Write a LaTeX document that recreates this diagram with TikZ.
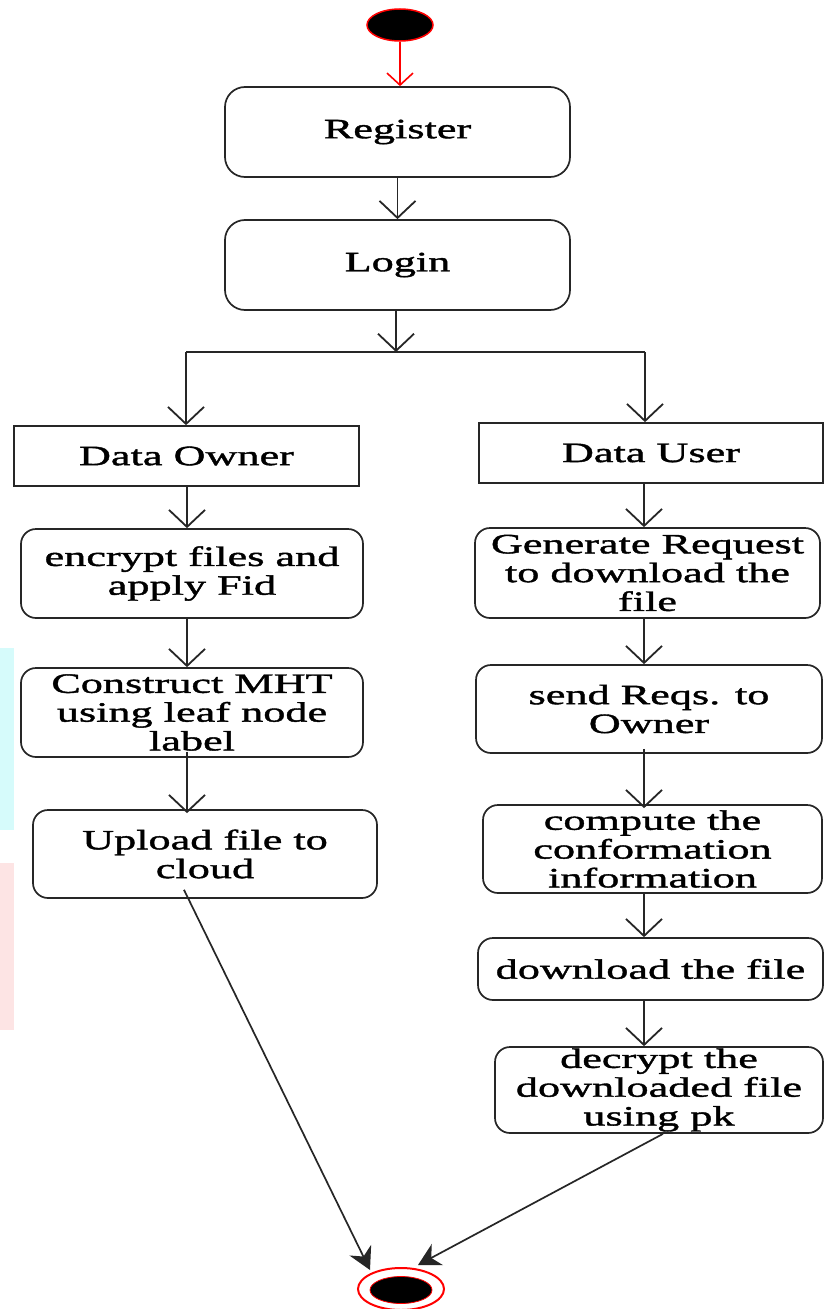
\documentclass[tikz,border=0pt]{standalone}
\usepackage{fontspec}
\setmainfont{Liberation Serif}[FakeStretch=1.58,FakeBold=1.4]
\usetikzlibrary{arrows.meta,shapes.geometric}

\definecolor{edge}{HTML}{262626}
\definecolor{stripcyan}{HTML}{D6FBFB}
\definecolor{strippink}{HTML}{FDE4E4}

\tikzset{
  every node/.style={font=\fontsize{28}{28.8}\selectfont, inner sep=0pt, align=center},
  action/.style={draw=edge, line width=1.7pt, rounded corners=15pt},
  bigaction/.style={draw=edge, line width=1.7pt, rounded corners=20pt},
  role/.style={draw=edge, line width=1.7pt},
  flow/.style={draw=edge, line width=1.8pt, -{Straight Barb[length=17pt,width=36pt,line width=1.8pt]}},
  plainline/.style={draw=edge, line width=1.8pt},
  startflow/.style={draw=red, line width=1.6pt, -{Straight Barb[length=12pt,width=26pt,line width=1.6pt]}},
  endflow/.style={draw=edge, line width=1.7pt, -{Stealth[length=22pt,width=24pt,inset=7pt]}},
}

\begin{document}
\begin{tikzpicture}[x=1pt,y=-1pt]
\useasboundingbox (0,0) rectangle (824,1309);
\fill[white] (0,0) rectangle (824,1309);

% faint strips along the left margin
\fill[stripcyan] (0,648) rectangle (14,830);
\fill[strippink] (0,863) rectangle (14,1030);

% initial state
\node[ellipse, draw=red, fill=black, line width=1.5pt, minimum width=66pt, minimum height=32pt] (start) at (400,25) {};

% common steps
\node[bigaction, minimum width=345pt, minimum height=90pt] (reg) at (397.5,132) {Register};
\node[bigaction, minimum width=345pt, minimum height=90pt] (login) at (397.5,265) {Login};

% roles
\node[role, minimum width=345pt, minimum height=60pt] (owner) at (186.5,456) {Data Owner};
\node[role, minimum width=344pt, minimum height=60pt] (user) at (651,453) {Data User};

% owner branch
\node[action, minimum width=342pt, minimum height=89pt] (enc) at (192,573.5) {encrypt files and\\apply Fid};
\node[action, minimum width=342pt, minimum height=89pt] (mht) at (192,712.5) {Construct MHT\\using leaf node\\label};
\node[action, minimum width=344pt, minimum height=88pt] (upload) at (205,854) {Upload file to\\cloud};

% user branch
\node[action, minimum width=345pt, minimum height=90pt] (gen) at (647.5,573) {Generate Request\\to download the\\file};
\node[action, minimum width=346pt, minimum height=88pt] (send) at (649,709) {send Reqs. to\\Owner};
\node[action, minimum width=339pt, minimum height=88pt] (comp) at (652.5,849) {compute the\\conformation\\information};
\node[action, minimum width=345pt, minimum height=62pt] (down) at (650.5,969) {download the file};
\node[action, minimum width=328pt, minimum height=86pt] (dec) at (659,1090) {decrypt the\\downloaded file\\using pk};

% final state
\node[ellipse, draw=red, line width=2pt, minimum width=86pt, minimum height=42pt] (final) at (401,1289) {};
\node[ellipse, draw=red, fill=black, line width=0.8pt, minimum width=62pt, minimum height=27pt] (finaldot) at (401,1290) {};

% helper points for the fork and the columns
\coordinate (fork) at (396,352);
\coordinate (forkL) at (186,352);
\coordinate (forkR) at (645,352);
\coordinate (colL) at (187,0);
\coordinate (colR) at (644,0);
\coordinate (tipL) at (370,1270);
\coordinate (tipR) at (418,1265);

% connectors
\draw[startflow] (start.south) -- (start.south |- reg.north);
\draw[flow] (reg.south) -- (login.north);
\draw[flow] (login.south -| fork) -- (fork);
\draw[plainline] (forkL) -- (forkR);
\draw[flow] (forkL) -- (forkL |- owner.north);
\draw[flow] (forkR) -- (forkR |- user.north);

\draw[flow] (owner.south -| colL) -- (enc.north -| colL);
\draw[flow] (enc.south -| colL) -- (mht.north -| colL);
\draw[flow] ([yshift=6pt]mht.south -| colL) -- ([yshift=-4pt]upload.north -| colL);

\draw[flow] (user.south -| colR) -- (gen.north -| colR);
\draw[flow] (gen.south -| colR) -- (send.north -| colR);
\draw[flow] ([yshift=5pt]send.south -| colR) -- ([yshift=-4pt]comp.north -| colR);
\draw[flow] (comp.south -| colR) -- (down.north -| colR);
\draw[flow] (down.south -| colR) -- (dec.north -| colR);

\draw[endflow] ([yshift=9pt]upload.south -| 184,0) -- (tipL);
\draw[endflow] ([xshift=4pt]dec.south) -- (tipR);
\end{tikzpicture}
\end{document}
